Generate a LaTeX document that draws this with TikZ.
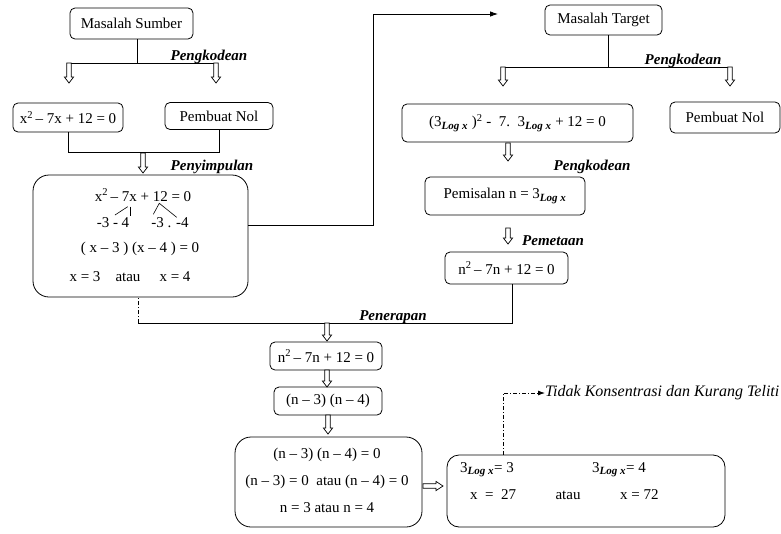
\documentclass[tikz,border=0pt]{standalone}
\usepackage{fontspec}
\setmainfont{Liberation Serif}
\usetikzlibrary{arrows.meta}

% subscript "Log x" used in the logarithm expressions
\newcommand{\lgx}{\textsubscript{\fontsize{11}{12}\selectfont\bfseries\itshape Log x}}
% hollow block arrows: down (x, y top, y tip) and right (y, x start, x tip)
\newcommand{\hdown}[3]{\draw[hollowarrow] (#1-2.2,#2) -- (#1-2.2,#3-6) -- (#1-4.6,#3-6) -- (#1,#3) -- (#1+4.6,#3-6) -- (#1+2.2,#3-6) -- (#1+2.2,#2) -- cycle;}
\newcommand{\hright}[3]{\draw[hollowarrow] (#2,#1-2.2) -- (#3-7,#1-2.2) -- (#3-7,#1-4.6) -- (#3,#1) -- (#3-7,#1+4.6) -- (#3-7,#1+2.2) -- (#2,#1+2.2) -- cycle;}

\tikzset{
  box/.style={draw, line width=0.8pt, rounded corners=5pt, align=center, inner sep=0pt},
  bigbox/.style={box, rounded corners=16pt},
  sz/.style 2 args={minimum width=#1pt, minimum height=#2pt},
  lab/.style={font=\fontsize{15}{17}\selectfont\bfseries\itshape, anchor=base, inner sep=0pt},
  txt/.style={inner sep=0pt},
  conn/.style={line width=0.8pt},
  dashdot/.style={line width=0.8pt, dash pattern=on 4pt off 2pt on 1pt off 2pt},
  hollowarrow/.style={line width=0.7pt, fill=white},
}

\begin{document}
\begin{tikzpicture}[x=1pt, y=-1pt, font=\fontsize{15}{17}\selectfont]
\useasboundingbox (0,0) rectangle (781,533);

% ---------- source problem ----------
\node[box, sz={123}{31}] (ms) at (131.5,23.5) {Masalah Sumber};
\node[lab] (pk1) at (209,60) {Pengkodean};
\coordinate (jL) at (137,63);
\coordinate (jLa) at (69,63);
\coordinate (jLb) at (218,63);
\draw[conn] (ms.south -| jL) -- (jL);
\draw[conn] (jLa) -- (jLb);
\hdown{69}{63}{83}
\hdown{216}{63}{83}

\node[box, sz={110}{29}] (eq1) at (68,117.5) {x\textsuperscript{2}\,– 7x + 12 = 0};
\node[box, sz={108}{27}] (pn1) at (219,116) {Pembuat Nol};

\coordinate (mL) at (68,152);
\coordinate (mR) at (219,152);
\draw[conn] (eq1.south) -- (mL) -- (mR) -- (pn1.south);
\hdown{143}{153}{173}
\node[lab] (pk2) at (212,170) {Penyimpulan};

% solution of the source problem
\node[bigbox, sz={215}{122}] (big1) at (140.5,236) {};
\node[txt] (s1) at (143,195) {x\textsuperscript{2}\,– 7x + 12 = 0};
\node[txt] (s2) at (113,223) {-3 - 4};
\node[txt] (s3) at (170,223) {-3 . -4};
\node[txt] (s4) at (140,249) {( x – 3 ) (x – 4 ) = 0};
\node[txt] (s5) at (85,277) {x = 3};
\node[txt] (s6) at (128,277) {atau};
\node[txt] (s7) at (175,277) {x = 4};
\draw[line width=0.6pt] (115,215) -- (127.7,206.7);
\draw[line width=0.6pt] (130,206.7) -- (130,216);
\draw[line width=0.6pt] (153.3,214.3) -- (159.3,203.3) -- (176.7,217.3);

% link towards the target problem
\coordinate (up1) at (373,225);
\coordinate (up2) at (373,14);
\coordinate (tip) at (498,14);
\draw[conn, -{Latex[length=8pt,width=5.5pt]}] (big1.east |- up1) -- (up1) -- (up2) -- (tip);

% ---------- target problem ----------
\node[box, sz={117}{30}] (mt) at (603.5,20) {Masalah Target};
\node[lab] (pk3) at (683,64) {Pengkodean};
\coordinate (jR) at (608,67);
\coordinate (jRa) at (503,67);
\coordinate (jRb) at (730,67);
\draw[conn] (mt.south -| jR) -- (jR);
\draw[conn] (jRa) -- (jRb);
\hdown{503}{67}{86}
\hdown{730}{67}{86}

\node[box, sz={231}{38}] (eq2) at (517.5,123) {(3\lgx\ )\textsuperscript{2} -\ \ 7.\ \ 3\lgx\ + 12 = 0};
\node[box, sz={110}{31}] (pn2) at (725,117.5) {Pembuat Nol};

\hdown{508}{143}{161}
\node[lab] (pk4) at (592,170) {Pengkodean};
\node[box, sz={160}{38}] (pem) at (505,196) {Pemisalan n = 3\lgx};

\hdown{508}{228}{244}
\node[lab] (pm) at (553,245) {Pemetaan};
\node[box, sz={123}{32}] (eqn1) at (506.5,268) {n\textsuperscript{2}\,– 7n + 12 = 0};

% ---------- application ----------
\coordinate (aR) at (512,323);
\coordinate (aL) at (138,323);
\draw[conn] (eqn1.south -| aR) -- (aR) -- (aL);
\draw[dashdot] (aL) -- (big1.south -| aL);
\node[lab] (pr) at (393,320) {Penerapan};

\hdown{327}{323}{341}
\node[box, sz={112}{28}] (eqn2) at (326,356) {n\textsuperscript{2}\,– 7n + 12 = 0};
\hdown{327}{370}{387}
\node[box, sz={108}{28}] (fac) at (328,401) {(n – 3) (n – 4)};
\hdown{328}{415}{434}

\node[bigbox, sz={187}{90}] (big2) at (328.5,482) {};
\node[txt] (b1) at (327,455) {(n – 3) (n – 4) = 0};
\node[txt] (b2) at (327,482) {(n – 3) = 0\ \ atau (n – 4) = 0};
\node[txt] (b3) at (327,508) {n = 3 atau n = 4};

\hright{486}{423}{443}

\node[box, rounded corners=12pt, sz={278}{72}] (big3) at (586,491) {};
\node[txt, anchor=west] (r1) at (460,470) {3\lgx= 3};
\node[txt, anchor=west] (r2) at (592,470) {3\lgx= 4};
\node[txt, anchor=west] (r3) at (470,495) {x\ \ =\ \ 27};
\node[txt] (r4) at (568,495) {atau};
\node[txt, anchor=west] (r5) at (620,495) {x = 72};

% note on the error
\node[txt, anchor=west, font=\fontsize{16}{18}\selectfont\itshape] (note) at (545,393) {Tidak Konsentrasi dan Kurang Teliti};
\coordinate (nb) at (503,393);
\draw[dashdot, -{Latex[length=7pt,width=5pt]}] (big3.north -| nb) -- (nb) -- (note.west);
\end{tikzpicture}
\end{document}
